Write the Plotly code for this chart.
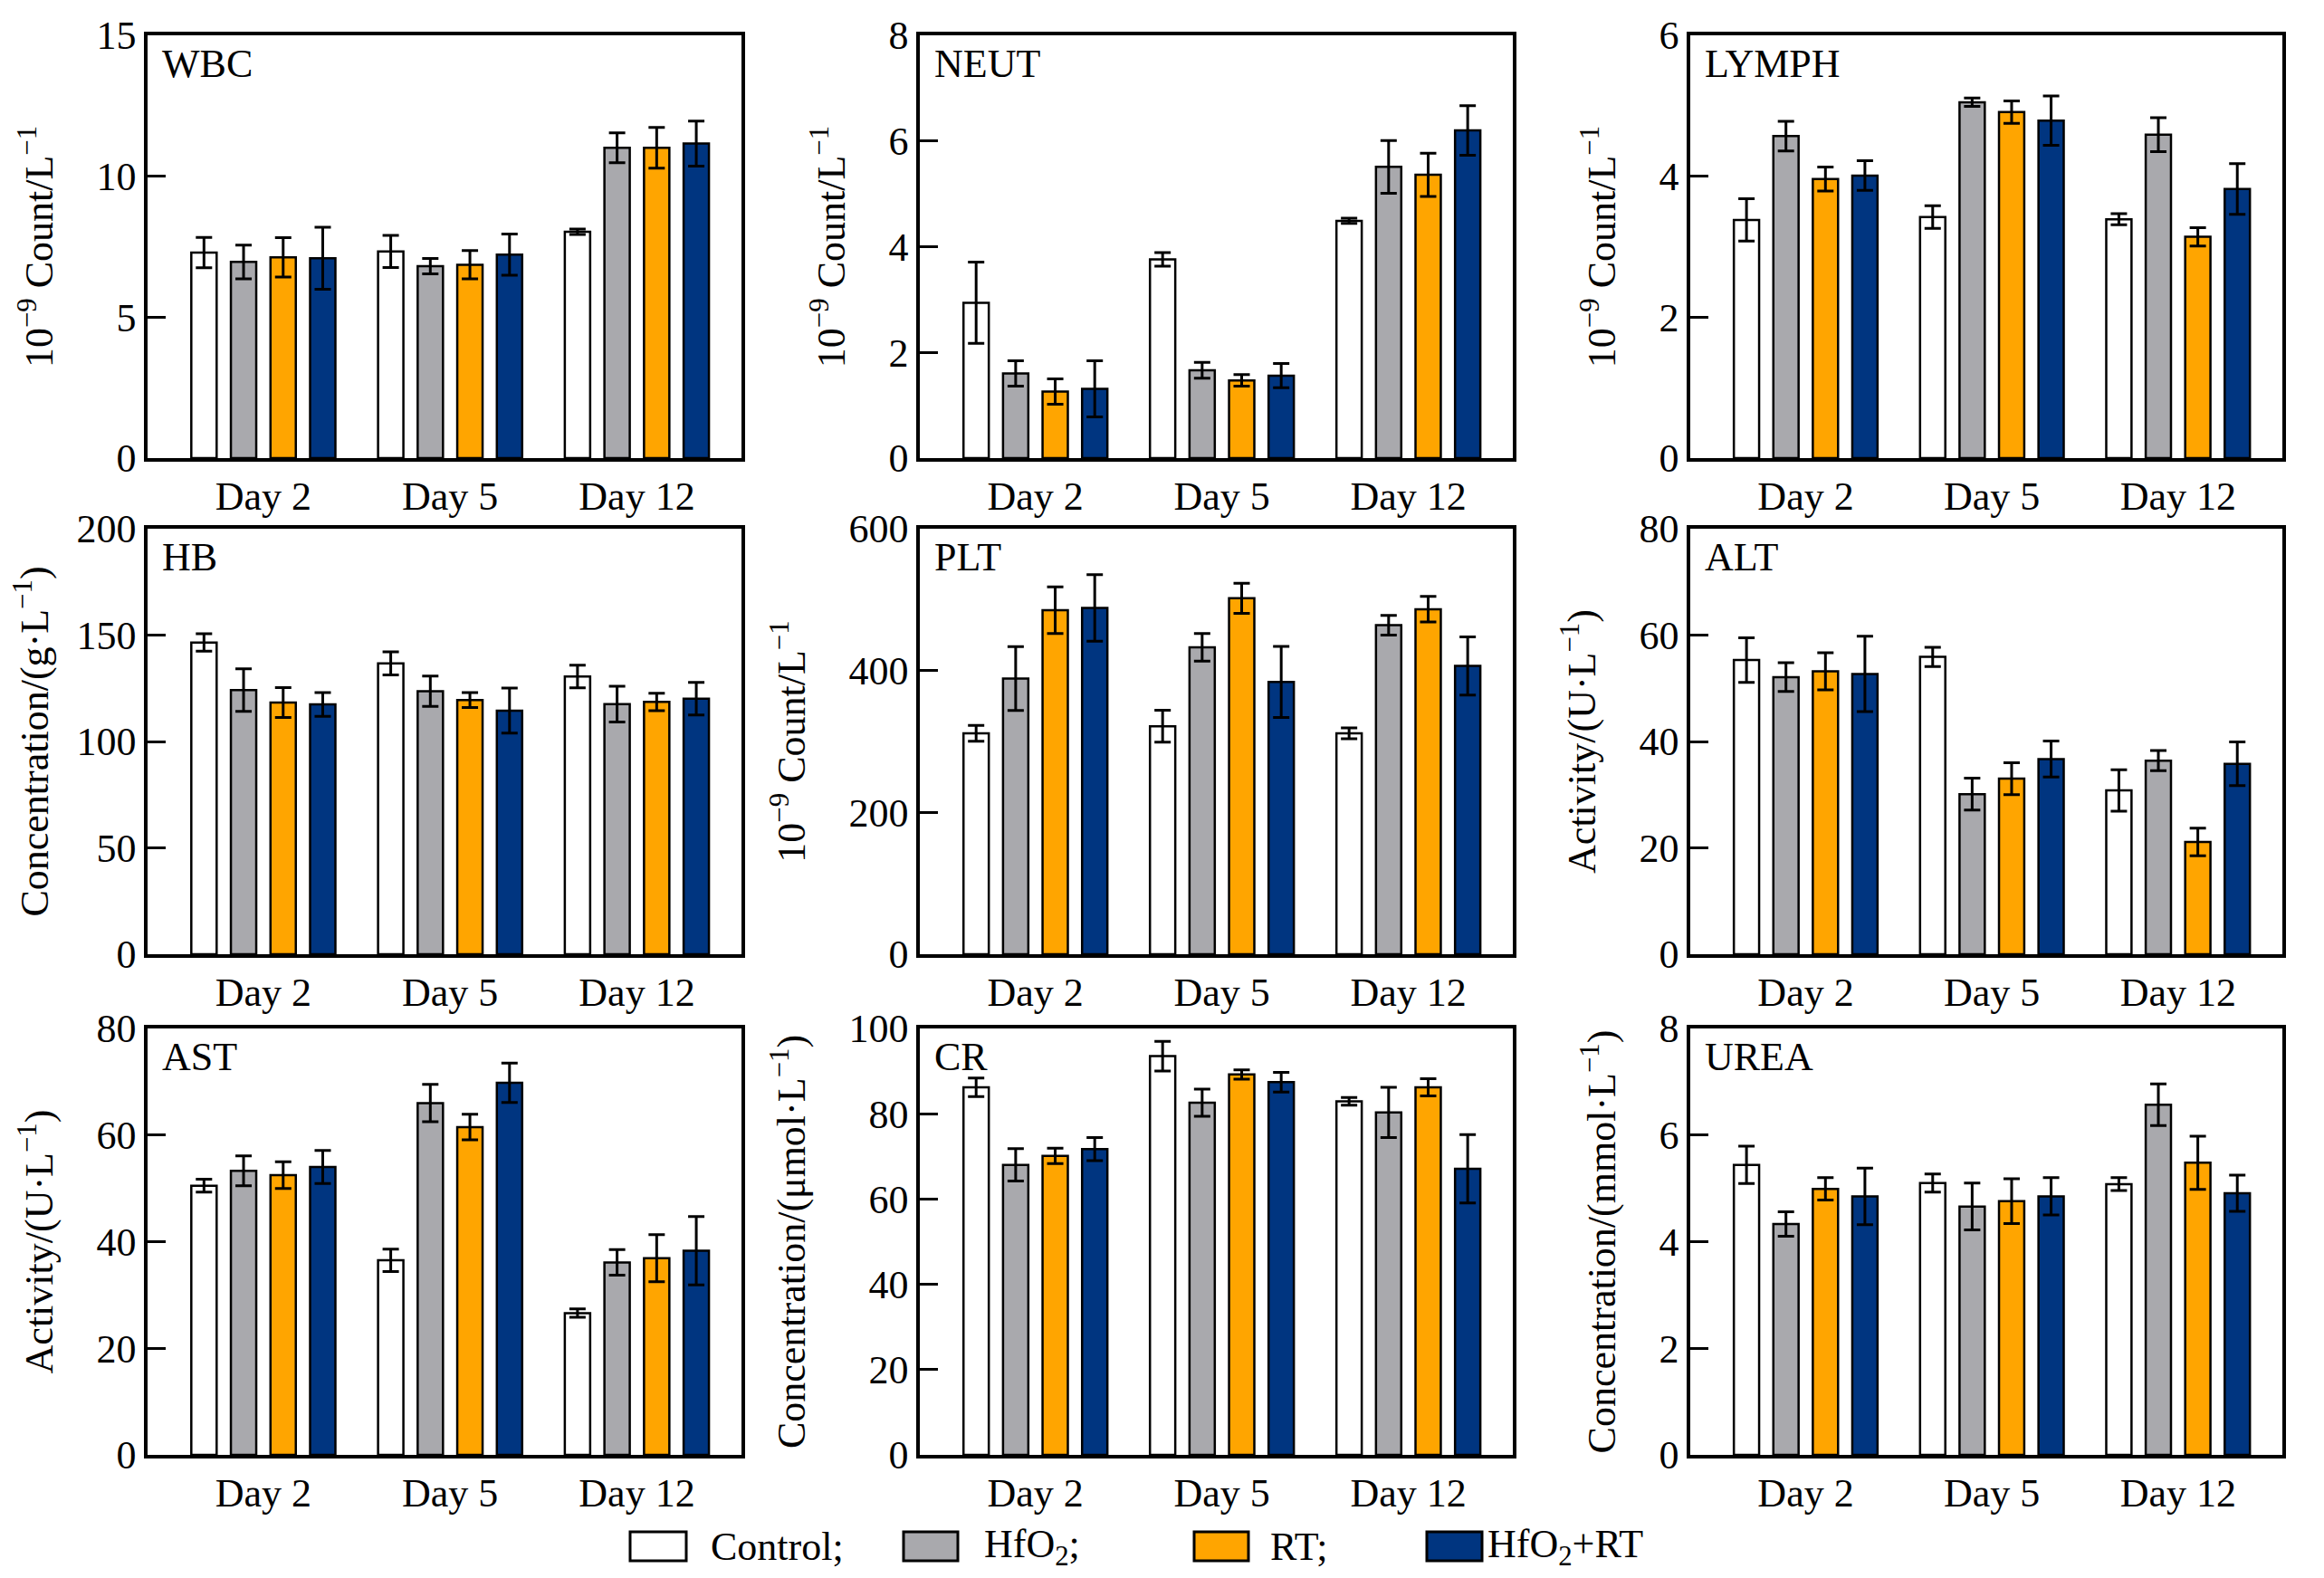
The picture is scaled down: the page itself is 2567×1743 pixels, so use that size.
import plotly.graph_objects as go
from plotly.subplots import make_subplots

# categories and groups
DAYS = ["Day 2", "Day 5", "Day 12"]
GROUPS = ["Control", "HfO2", "RT", "HfO2+RT"]
GROUP_LABELS = ["Control;", "HfO<sub>2</sub>;", "RT;", "HfO<sub>2</sub>+RT"]
COLORS = ["#ffffff", "#a9a9ad", "#ffa500", "#003580"]

# values: one row per group, one column per day
WBC_MEAN = [[7.29, 7.33, 8.03], [6.96, 6.81, 11.01], [7.12, 6.86, 11.01], [7.09, 7.22, 11.16]]
WBC_ERR = [[0.54, 0.57, 0.10], [0.60, 0.27, 0.53], [0.70, 0.50, 0.72], [1.10, 0.73, 0.80]]

NEUT_MEAN = [[2.94, 3.76, 4.49], [1.60, 1.66, 5.51], [1.26, 1.47, 5.36], [1.31, 1.56, 6.20]]
NEUT_ERR = [[0.77, 0.13, 0.05], [0.24, 0.15, 0.50], [0.24, 0.11, 0.41], [0.53, 0.23, 0.47]]

LYMPH_MEAN = [[3.38, 3.42, 3.39], [4.57, 5.05, 4.59], [3.96, 4.91, 3.14], [4.01, 4.79, 3.82]]
LYMPH_ERR = [[0.30, 0.16, 0.08], [0.21, 0.06, 0.24], [0.17, 0.16, 0.13], [0.21, 0.35, 0.36]]

HB_MEAN = [[146.5, 136.7, 130.5], [124.2, 123.6, 117.6], [118.3, 119.5, 118.6], [117.4, 114.5, 120.1]]
HB_ERR = [[4.1, 5.4, 5.3], [10.0, 7.1, 8.4], [7.0, 3.5, 4.1], [5.6, 10.6, 7.7]]

PLT_MEAN = [[311.5, 321.5, 311.5], [388.8, 432.7, 463.9], [485.1, 501.9, 486.5], [488.3, 383.9, 406.5]]
PLT_ERR = [[11.3, 22.6, 7.7], [45.0, 19.4, 14.0], [33.0, 21.2, 18.0], [47.0, 50.0, 41.0]]

ALT_MEAN = [[55.3, 55.9, 30.8], [52.1, 30.1, 36.4], [53.2, 33.0, 21.1], [52.7, 36.7, 35.8]]
ALT_ERR = [[4.2, 1.8, 3.9], [2.7, 3.0, 1.9], [3.5, 3.0, 2.6], [7.1, 3.4, 4.1]]

AST_MEAN = [[50.5, 36.5, 26.6], [53.3, 66.0, 36.1], [52.5, 61.5, 36.9], [54.0, 69.8, 38.3]]
AST_ERR = [[1.2, 2.1, 0.8], [2.8, 3.5, 2.4], [2.5, 2.4, 4.4], [3.1, 3.7, 6.4]]

CR_MEAN = [[86.2, 93.5, 82.9], [68.0, 82.6, 80.3], [70.1, 89.2, 86.2], [71.7, 87.4, 67.1]]
CR_ERR = [[2.2, 3.5, 0.9], [3.8, 3.2, 5.9], [1.8, 1.1, 2.0], [2.7, 2.3, 8.0]]

UREA_MEAN = [[5.44, 5.10, 5.08], [4.33, 4.66, 6.57], [4.99, 4.76, 5.48], [4.85, 4.85, 4.91]]
UREA_ERR = [[0.35, 0.17, 0.12], [0.23, 0.44, 0.39], [0.21, 0.42, 0.50], [0.53, 0.35, 0.34]]

COUNT = "10<sup>−9</sup> Count/L<sup>−1</sup>"
panels = [
    ("WBC", WBC_MEAN, WBC_ERR, COUNT, 15, 5),
    ("NEUT", NEUT_MEAN, NEUT_ERR, COUNT, 8, 2),
    ("LYMPH", LYMPH_MEAN, LYMPH_ERR, COUNT, 6, 2),
    ("HB", HB_MEAN, HB_ERR, "Concentration/(g·L<sup>−1</sup>)", 200, 50),
    ("PLT", PLT_MEAN, PLT_ERR, COUNT, 600, 200),
    ("ALT", ALT_MEAN, ALT_ERR, "Activity/(U·L<sup>−1</sup>)", 80, 20),
    ("AST", AST_MEAN, AST_ERR, "Activity/(U·L<sup>−1</sup>)", 80, 20),
    ("CR", CR_MEAN, CR_ERR, "Concentration/(μmol·L<sup>−1</sup>)", 100, 20),
    ("UREA", UREA_MEAN, UREA_ERR, "Concentration/(mmol·L<sup>−1</sup>)", 8, 2),
]

W, H = 2567, 1743
FONT = "Liberation Serif, Times New Roman, serif"

# panel boxes in pixels (left, right) and (top, bottom)
col_px = [(155, 811), (1008, 1663), (1859, 2513)]
row_px = [(31, 498), (576, 1046), (1128, 1599)]

fig = make_subplots(rows=3, cols=3)

for i, (name, means, errs, ytitle, ymax, dtick) in enumerate(panels):
    r, c = i // 3 + 1, i % 3 + 1
    for g in range(4):
        fig.add_trace(go.Bar(
            x=DAYS, y=means[g], name=GROUPS[g],
            marker=dict(color=COLORS[g], line=dict(color="black", width=2.5)),
            error_y=dict(type="data", array=errs[g], color="black", thickness=3, width=9),
            showlegend=False,
        ), row=r, col=c)
    fig.update_xaxes(range=[-0.62, 2.56], row=r, col=c)
    fig.update_yaxes(range=[0, ymax], dtick=dtick, tick0=0, title_text=ytitle, row=r, col=c)
    idx = "" if i == 0 else str(i + 1)
    fig.add_annotation(text=name, xref="x%s domain" % idx, yref="y%s domain" % idx,
                       x=0.022, y=0.99, xanchor="left", yanchor="top", showarrow=False,
                       font=dict(size=44, color="black", family=FONT))
    xl, xr = col_px[c - 1]
    yt, yb = row_px[r - 1]
    fig.layout["xaxis" + idx].domain = [xl / W, xr / W]
    fig.layout["yaxis" + idx].domain = [1 - yb / H, 1 - yt / H]

fig.update_xaxes(showline=True, linecolor="black", linewidth=3.5, mirror=True,
                 ticks="", showgrid=False, automargin=False,
                 tickfont=dict(size=44, color="black", family=FONT))
fig.update_yaxes(showline=True, linecolor="black", linewidth=3.5, mirror=True,
                 ticks="inside", ticklen=20, tickwidth=3, tickcolor="black",
                 showgrid=False, zeroline=False, automargin=False,
                 ticklabeloverflow="allow",
                 tickfont=dict(size=44, color="black", family=FONT),
                 title_font=dict(size=44, color="black", family=FONT), title_standoff=35)

# legend swatches and labels along the bottom
legend_box_px = [(688, 750), (990, 1050), (1311, 1371), (1568, 1629)]
legend_text_px = [775, 1077, 1393, 1633]
ly = 1 - 1700 / H
for g in range(4):
    x0, x1 = legend_box_px[g]
    fig.add_shape(type="rect", xref="paper", yref="paper",
                  x0=x0 / W, x1=x1 / W, y0=ly - 16 / H, y1=ly + 16 / H,
                  fillcolor=COLORS[g], line=dict(color="black", width=3))
    fig.add_annotation(text=GROUP_LABELS[g], xref="paper", yref="paper",
                       x=legend_text_px[g] / W, y=ly, xanchor="left", yanchor="middle",
                       showarrow=False, font=dict(size=44, color="black", family=FONT))

fig.update_layout(
    width=W, height=H,
    margin=dict(l=0, r=0, t=0, b=0),
    barmode="group", bargap=0.152, bargroupgap=0.36,
    plot_bgcolor="white", paper_bgcolor="white",
    font=dict(family=FONT, color="black", size=44),
)

fig.write_html("out.html")
